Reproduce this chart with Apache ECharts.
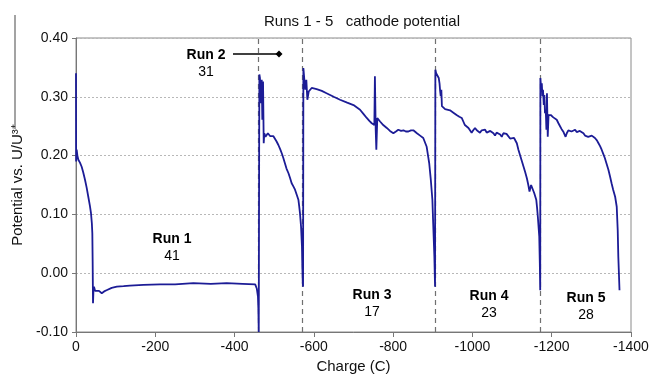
<!DOCTYPE html>
<html>
<head>
<meta charset="utf-8">
<script src="https://cdn.jsdelivr.net/npm/echarts@6/dist/echarts.min.js"></script>
<style>
  html, body { margin: 0; padding: 0; background: #fff; }
  #chart { width: 652px; height: 380px; }
</style>
</head>
<body>
<div id="chart"></div>
<script>
// Runs 1 - 5 cathode potential vs. charge passed

const run1Charge = [0, -0.3, -1.7, -3.5, -5.9, -10, -14.3, -18, -22.7, -27, -31, -35, -37.8, -40, -41.2, -42, -42.9, -44, -45.4, -48, -52, -58, -65, -71, -77, -90, -103, -120, -136, -170, -212, -250, -296, -340, -380, -420, -452, -456, -459, -460]
const run1Potential = [0.340, 0.190, 0.210, 0.200, 0.193, 0.188, 0.181, 0.172, 0.159, 0.145, 0.130, 0.115, 0.102, 0.085, 0.068, 0.020, -0.051, -0.030, -0.023, -0.030, -0.032, -0.030, -0.034, -0.031, -0.029, -0.025, -0.023, -0.022, -0.021, -0.020, -0.019, -0.019, -0.017, -0.018, -0.017, -0.018, -0.019, -0.026, -0.040, -0.060]

const run2Charge = [-461, -462, -462.6, -464, -465.5, -466.8, -468.5, -470, -471.8, -473.5, -475, -478, -481, -484, -487, -490, -494, -498, -502, -506, -510.5, -515, -519, -523, -527, -531, -536, -540, -544, -548, -552.5, -557, -561, -563, -565, -567.7, -570, -571, -572]
const run2Potential = [-0.100, 0.200, 0.338, 0.332, 0.300, 0.289, 0.329, 0.261, 0.326, 0.221, 0.238, 0.232, 0.235, 0.238, 0.238, 0.233, 0.232, 0.233, 0.230, 0.224, 0.218, 0.211, 0.204, 0.196, 0.187, 0.178, 0.170, 0.162, 0.153, 0.148, 0.142, 0.133, 0.125, 0.114, 0.102, 0.079, 0.045, 0.010, -0.017]

const run3Charge = [-572.8, -573.6, -576, -578.5, -581, -583.6, -587, -594.5, -607, -620, -632, -650, -666, -684, -700, -716.5, -725, -733.4, -740, -746, -752.6, -754, -756, -757.6, -760, -767, -775, -784, -792, -800.6, -807, -813, -820, -826, -832, -838.4, -845, -851, -860, -868, -876, -884.6, -888, -891, -895, -899, -901, -904, -905.7]
const run3Potential = [-0.023, 0.349, 0.329, 0.312, 0.329, 0.295, 0.309, 0.315, 0.313, 0.310, 0.306, 0.300, 0.295, 0.290, 0.286, 0.278, 0.271, 0.264, 0.259, 0.255, 0.252, 0.335, 0.244, 0.210, 0.264, 0.258, 0.252, 0.247, 0.242, 0.238, 0.241, 0.244, 0.242, 0.243, 0.241, 0.241, 0.243, 0.243, 0.238, 0.234, 0.230, 0.215, 0.200, 0.187, 0.159, 0.125, 0.085, 0.028, -0.023]

const run4Charge = [-906.5, -908.5, -910, -912, -915, -917, -918.5, -920, -921.6, -923, -931, -943.5, -952, -960, -967, -973, -977, -981, -990, -998, -1002, -1006.6, -1011, -1015, -1019, -1023.5, -1028, -1032, -1036, -1040, -1045, -1049, -1053, -1057, -1061, -1065.5, -1070, -1074, -1078, -1082, -1086, -1091, -1095, -1099, -1105, -1112, -1116, -1120, -1125, -1129, -1133, -1137.5, -1141, -1144, -1148, -1152.6, -1156, -1161, -1163, -1165, -1168.6, -1170, -1171]
const run4Potential = [0.346, 0.340, 0.343, 0.340, 0.332, 0.323, 0.310, 0.301, 0.312, 0.284, 0.279, 0.277, 0.273, 0.269, 0.266, 0.264, 0.258, 0.252, 0.247, 0.239, 0.243, 0.247, 0.243, 0.241, 0.239, 0.243, 0.240, 0.244, 0.239, 0.237, 0.242, 0.244, 0.238, 0.234, 0.239, 0.241, 0.236, 0.232, 0.238, 0.241, 0.237, 0.234, 0.229, 0.227, 0.230, 0.221, 0.210, 0.201, 0.190, 0.181, 0.172, 0.161, 0.150, 0.139, 0.150, 0.153, 0.136, 0.125, 0.112, 0.096, 0.062, 0.017, -0.029]

const run5Charge = [-1171.4, -1173, -1175, -1176.5, -1178, -1180, -1181.5, -1183, -1185, -1186.6, -1188, -1190, -1192, -1194, -1197.6, -1204, -1212.6, -1217, -1221, -1225, -1229, -1235, -1238, -1242, -1246, -1250, -1255, -1259, -1263, -1267, -1271, -1276, -1280, -1284, -1288, -1292, -1297, -1301, -1305, -1309, -1314, -1318, -1322, -1326, -1330, -1334, -1338, -1343, -1347, -1351, -1355, -1360, -1364, -1366.5, -1368, -1369.5, -1371]
const run5Potential = [0.332, 0.318, 0.323, 0.301, 0.312, 0.286, 0.303, 0.272, 0.278, 0.244, 0.306, 0.232, 0.269, 0.267, 0.269, 0.265, 0.261, 0.255, 0.250, 0.245, 0.241, 0.232, 0.238, 0.243, 0.240, 0.241, 0.238, 0.244, 0.240, 0.238, 0.242, 0.244, 0.238, 0.234, 0.233, 0.232, 0.233, 0.234, 0.232, 0.230, 0.226, 0.221, 0.216, 0.210, 0.203, 0.196, 0.187, 0.176, 0.165, 0.153, 0.142, 0.130, 0.113, 0.073, 0.028, 0.000, -0.029]

// charge at which each new run starts (dashed separators)
const runBoundaries = [-460, -571, -905.5, -1170.5]
const runNames = ['Run 1', 'Run 2', 'Run 3', 'Run 4', 'Run 5']
const runValues = ['41', '31', '17', '23', '28']

const FONT = '"Liberation Sans", Arial, sans-serif'
const LINE_COLOR = '#1c1c96'

const charges = [run1Charge, run2Charge, run3Charge, run4Charge, run5Charge]
const potentials = [run1Potential, run2Potential, run3Potential, run4Potential, run5Potential]
const points = []
charges.forEach((cs, r) => cs.forEach((c, i) => points.push([c, potentials[r][i]])))

// label spots (px) for the run annotations
const labelPos = [[172, 239], [206, 55], [372, 295], [489, 296], [586, 298]]

const graphics = [
  { type: 'text', style: { text: 'Runs 1 - 5   cathode potential', x: 362, y: 22, align: 'center', verticalAlign: 'middle', font: '15px ' + FONT, fill: '#111' } },
  { type: 'line', shape: { x1: 15, y1: 15, x2: 15, y2: 129 }, style: { stroke: '#666', lineWidth: 1.2 } },
  // Run 2 pointer
  { type: 'line', shape: { x1: 233, y1: 54, x2: 279, y2: 54 }, style: { stroke: '#000', lineWidth: 1.3 } },
  { type: 'polygon', shape: { points: [[279, 50.5], [282.5, 54], [279, 57.5], [275.5, 54]] }, style: { fill: '#000' } },
]
runNames.forEach((name, i) => {
  const [x, y] = labelPos[i]
  graphics.push({ type: 'text', style: { text: name, x, y, align: 'center', verticalAlign: 'middle', font: 'bold 14px ' + FONT, fill: '#000' } })
  graphics.push({ type: 'text', style: { text: runValues[i], x, y: y + 17, align: 'center', verticalAlign: 'middle', font: '14px ' + FONT, fill: '#000' } })
})

const chart = echarts.init(document.getElementById('chart'), null, { renderer: 'canvas' })
chart.setOption({
  animation: false,
  backgroundColor: '#fff',
  textStyle: { fontFamily: FONT },
  grid: { left: 76, right: 21, top: 38, bottom: 48, show: true, borderColor: '#8a8a8a', borderWidth: 1 },
  xAxis: {
    type: 'value',
    min: -1400,
    max: 0,
    interval: 200,
    inverse: true,
    name: 'Charge (C)',
    nameLocation: 'middle',
    nameGap: 27,
    nameTextStyle: { fontSize: 15, color: '#111', fontFamily: FONT },
    axisLine: { onZero: false, lineStyle: { color: '#777', width: 1 } },
    axisTick: { show: true, length: 5, lineStyle: { color: '#777' } },
    axisLabel: { fontSize: 14, color: '#111', margin: 8, fontFamily: FONT, formatter: (v) => String(v) },
    splitLine: { show: false },
  },
  yAxis: {
    type: 'value',
    min: -0.1,
    max: 0.4,
    interval: 0.1,
    name: 'Potential vs. U/U³⁺',
    nameLocation: 'middle',
    nameGap: 46,
    nameTextStyle: { fontSize: 15, color: '#111', fontFamily: FONT },
    axisLine: { lineStyle: { color: '#777', width: 1 } },
    axisTick: { show: true, length: 4, lineStyle: { color: '#777' } },
    axisLabel: { fontSize: 14, color: '#111', margin: 8, fontFamily: FONT, formatter: (v) => v.toFixed(2) },
    splitLine: { show: true, lineStyle: { color: '#b8b8b8', type: [2, 2], width: 1 } },
  },
  series: [
    {
      type: 'line',
      data: points,
      showSymbol: false,
      smooth: false,
      lineStyle: { color: LINE_COLOR, width: 1.8 },
      z: 3,
      markLine: {
        silent: true,
        symbol: ['none', 'none'],
        label: { show: false },
        lineStyle: { color: '#707070', type: [5, 4], width: 1.2 },
        data: runBoundaries.map((x) => ({ xAxis: x })),
        z: 2,
      },
    },
  ],
  graphic: graphics,
})
</script>
</body>
</html>
